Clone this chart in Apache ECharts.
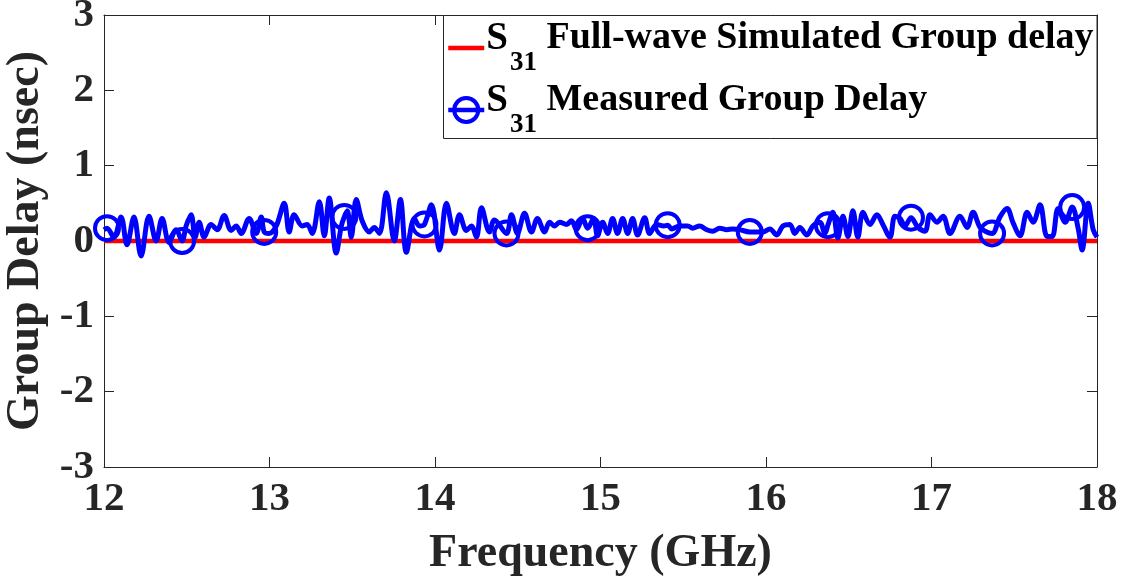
<!DOCTYPE html>
<html>
<head>
<meta charset="utf-8">
<script src="https://cdn.jsdelivr.net/npm/echarts@6/dist/echarts.min.js"></script>
<style>html,body{margin:0;padding:0;background:#fff;}#c{width:1140px;height:588px;}</style>
</head>
<body>
<div id="c"></div>
<script>
// Data (GHz, nsec)
const simFreq = [12, 18];
const simDelay = [0, 0];

const measFreq = [12.000, 12.060, 12.103, 12.139, 12.181, 12.224, 12.272, 12.315, 12.351, 12.393, 12.436,
  12.496, 12.526, 12.551, 12.575, 12.605, 12.647, 12.684, 12.726, 12.768, 12.799, 12.829, 12.877, 12.920, 12.950,
  12.998, 13.041, 13.089, 13.119, 13.149, 13.198, 13.228, 13.258, 13.301, 13.331, 13.361, 13.403, 13.434,
  13.470, 13.494, 13.524, 13.561, 13.603, 13.633, 13.664, 13.706, 13.754, 13.791, 13.827, 13.875, 13.906,
  13.978, 14.027, 14.069, 14.117, 14.148, 14.190, 14.220, 14.250, 14.281, 14.329, 14.359, 14.462,
  14.498, 14.541, 14.583, 14.619, 14.662, 14.692, 14.722, 14.753, 14.795, 14.825, 14.855, 14.892,
  14.958, 14.982, 15.013, 15.043, 15.073, 15.103, 15.134, 15.164, 15.194, 15.224, 15.267, 15.297, 15.339,
  15.382, 15.430, 15.478, 15.527, 15.557, 15.599, 15.642, 15.678, 15.720, 15.763, 15.799, 15.841,
  15.932, 15.981, 16.023, 16.065, 16.102, 16.144, 16.174, 16.204, 16.247, 16.283, 16.325, 16.356,
  16.404, 16.434, 16.465, 16.495, 16.525, 16.555, 16.586, 16.628, 16.670, 16.706, 16.749, 16.779, 16.809,
  16.840, 16.918, 16.961, 16.991, 17.033, 17.070, 17.112, 17.172, 17.215, 17.251, 17.293, 17.324,
  17.414, 17.457, 17.493, 17.535, 17.578, 17.614, 17.656, 17.699, 17.729, 17.765, 17.808,
  17.886, 17.910, 17.947, 17.977, 18.000];
const measDelay = [0.15, 0.05, 0.32, -0.05, 0.32, -0.20, 0.33, 0.00, 0.30, -0.02, 0.15,
  0.20, 0.35, 0.05, 0.25, 0.05, 0.22, 0.15, 0.34, 0.14, 0.20, 0.10, 0.30, 0.10, 0.32,
  0.10, 0.20, 0.50, 0.12, 0.35, 0.20, 0.22, 0.10, 0.52, 0.07, 0.57, -0.16, 0.20,
  0.40, 0.05, 0.55, 0.26, 0.12, 0.18, 0.10, 0.64, 0.00, 0.55, -0.15, 0.30, 0.20,
  0.48, -0.12, 0.50, 0.10, 0.35, 0.14, 0.20, 0.05, 0.44, 0.12, 0.28, 0.35,
  0.10, 0.37, 0.12, 0.30, 0.12, 0.25, 0.20, 0.25, 0.22, 0.27, 0.15, 0.30,
  0.30, 0.07, 0.25, 0.10, 0.30, 0.10, 0.30, 0.10, 0.30, 0.08, 0.31, 0.10, 0.22,
  0.20, 0.16, 0.20, 0.20, 0.17, 0.20, 0.15, 0.13, 0.17, 0.15, 0.16, 0.15,
  0.12, 0.12, 0.16, 0.08, 0.20, 0.22, 0.10, 0.18, 0.08, 0.20, 0.25, 0.10,
  0.38, 0.04, 0.33, 0.06, 0.40, 0.05, 0.38, 0.22, 0.35, 0.22, 0.05, 0.33, 0.30,
  0.20, 0.18, 0.13, 0.35, 0.25, 0.33, 0.10, 0.33, 0.18, 0.38, 0.18, 0.13,
  0.32, 0.43, 0.24, 0.07, 0.38, 0.25, 0.48, 0.06, 0.06, 0.43, 0.25,
  0.17, -0.12, 0.50, 0.15, 0.05];

// Marker points on the measured curve
const markerFreq = [12.018, 12.472, 12.968, 13.452, 13.936, 14.432, 14.922, 15.406, 15.902, 16.374, 16.876, 17.366, 17.850];
const markerDelay = [0.17, 0.00, 0.12, 0.32, 0.22, 0.10, 0.17, 0.21, 0.12, 0.21, 0.31, 0.10, 0.45];

const pts = [];
measFreq.forEach((f, i) => pts.push({ value: [f, measDelay[i]], symbol: 'none' }));
markerFreq.forEach((f, i) => pts.push({ value: [f, markerDelay[i]], symbol: 'circle' }));
pts.sort((a, b) => a.value[0] - b.value[0]);

const FONT = '"Liberation Serif", "Times New Roman", serif';
const AX = '#262626';

const chart = echarts.init(document.getElementById('c'), null, { renderer: 'canvas' });
chart.setOption({
  animation: false,
  backgroundColor: '#fff',
  grid: { left: 104, right: 43, top: 15, bottom: 121, containLabel: false, outerBoundsMode: 'none' },
  graphic: [{
    type: 'rect', z: 90, silent: true,
    shape: { x: 443.5, y: 15.5, width: 653.5, height: 123 },
    style: { fill: '#fff', stroke: AX, lineWidth: 1 }
  }],
  legend: {
    z: 100,
    left: 443, top: 13,
    orient: 'vertical',
    padding: [6, 4, 0, 3],
    itemGap: 4,
    itemWidth: 36, itemHeight: 30,
    lineStyle: { width: 4.5 },
    itemStyle: { borderWidth: 4 },
    data: ['sim', 'meas'],
    formatter: function (name) {
      return name === 'sim'
        ? '{s|S}{sub|31}{t| Full-wave Simulated Group delay}'
        : '{s|S}{sub|31}{t| Measured Group Delay}';
    },
    textStyle: {
      fontFamily: FONT, fontWeight: 'bold', color: '#000',
      padding: [0, 0, 0, -3],
      rich: {
        s: { fontFamily: FONT, fontWeight: 'bold', fontSize: 39, color: '#000', verticalAlign: 'top', lineHeight: 58 },
        t: { fontFamily: FONT, fontWeight: 'bold', fontSize: 38, color: '#000', verticalAlign: 'top' },
        sub: { fontFamily: FONT, fontWeight: 'bold', fontSize: 27, color: '#000', verticalAlign: 'bottom', padding: [0, 0, 0, 2] }
      }
    }
  },
  xAxis: [{
    type: 'value', min: 12, max: 18, interval: 1,
    name: 'Frequency (GHz)', nameLocation: 'middle', nameGap: 64,
    nameTextStyle: { fontFamily: FONT, fontWeight: 'bold', fontSize: 46, color: AX },
    axisLine: { show: true, onZero: false, lineStyle: { color: AX, width: 1 } },
    axisTick: { show: true, inside: true, length: 10, lineStyle: { color: AX } },
    axisLabel: { fontFamily: FONT, fontWeight: 'bold', fontSize: 41, color: AX, margin: 12 },
    splitLine: { show: false }
  }, {
    type: 'value', min: 12, max: 18, interval: 1, position: 'top',
    axisLine: { show: true, onZero: false, lineStyle: { color: AX, width: 1 } },
    axisTick: { show: true, inside: true, length: 10, lineStyle: { color: AX } },
    axisLabel: { show: false }, splitLine: { show: false }
  }],
  yAxis: [{
    type: 'value', min: -3, max: 3, interval: 1,
    name: 'Group Delay (nsec)', nameLocation: 'middle', nameGap: 52,
    nameTextStyle: { fontFamily: FONT, fontWeight: 'bold', fontSize: 46, color: AX },
    axisLine: { show: true, onZero: false, lineStyle: { color: AX, width: 1 } },
    axisTick: { show: true, inside: true, length: 10, lineStyle: { color: AX } },
    axisLabel: { fontFamily: FONT, fontWeight: 'bold', fontSize: 41, color: AX, margin: 10 },
    splitLine: { show: false }
  }, {
    type: 'value', min: -3, max: 3, interval: 1, position: 'right',
    axisLine: { show: true, onZero: false, lineStyle: { color: AX, width: 1 } },
    axisTick: { show: true, inside: true, length: 10, lineStyle: { color: AX } },
    axisLabel: { show: false }, splitLine: { show: false }
  }],
  series: [{
    name: 'sim', type: 'line', z: 2,
    data: simFreq.map((f, i) => [f, simDelay[i]]),
    symbol: 'none',
    lineStyle: { color: '#ff0000', width: 4.5 },
    itemStyle: { color: 'rgba(0,0,0,0)', borderColor: 'rgba(0,0,0,0)', borderWidth: 0 }
  }, {
    name: 'meas', type: 'line', z: 3,
    data: pts,
    showAllSymbol: true,
    symbol: 'circle', symbolSize: 24,
    lineStyle: { color: '#0000ff', width: 5 },
    itemStyle: { color: 'rgba(0,0,0,0)', borderColor: '#0000ff', borderWidth: 4 },
    smooth: 0.35
  }]
});
</script>
</body>
</html>
